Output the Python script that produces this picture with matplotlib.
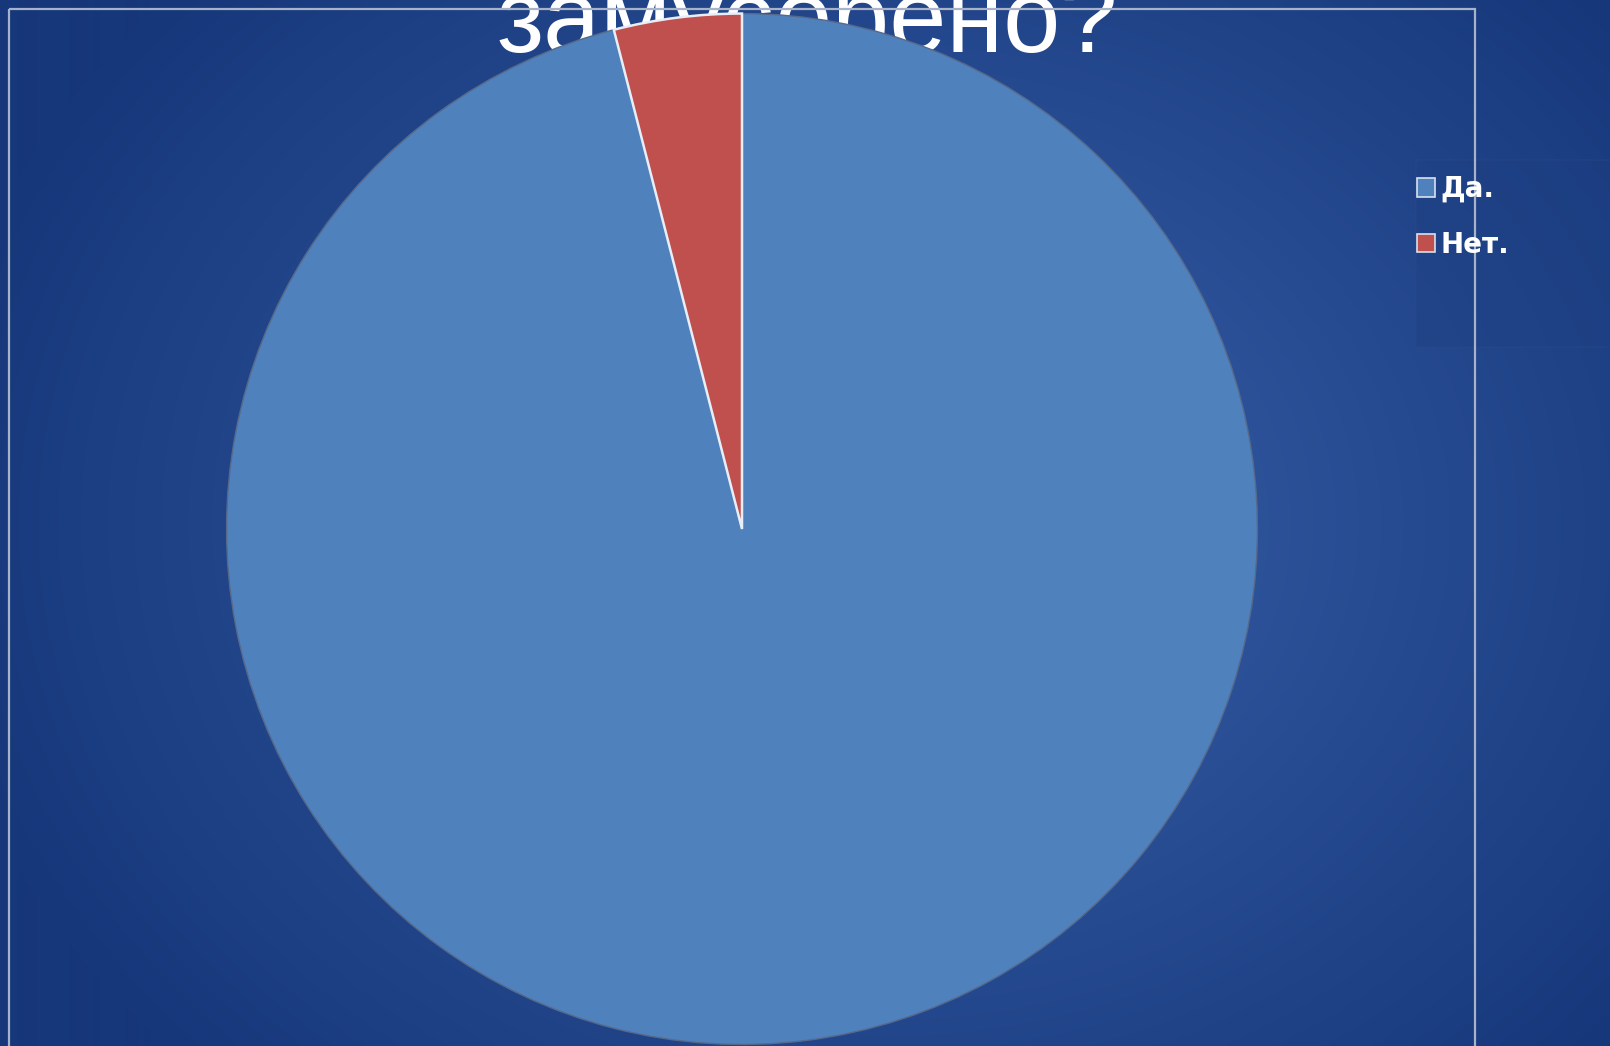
import numpy as np
import matplotlib
matplotlib.use("Agg")
import matplotlib.pyplot as plt
from matplotlib.patches import Rectangle

# data
labels = ["Да.", "Нет."]
values = [96, 4]
colors = ["#4F81BD", "#C0504D"]
title = "замусорено?"

W, H = 1610, 1046
fig = plt.figure(figsize=(W / 100, H / 100), dpi=100)

# radial gradient background
bg = fig.add_axes([0, 0, 1, 1])
yy, xx = np.mgrid[0:H, 0:W]
r = np.sqrt(((xx - W * 0.55) / (W * 0.6)) ** 2 + ((yy - H * 0.5) / (H * 0.75)) ** 2)
r = np.clip(r, 0, 1)
inner = np.array([0x3a, 0x62, 0xab]) / 255
outer = np.array([0x16, 0x37, 0x7a]) / 255
img = inner[None, None, :] * (1 - r[..., None]) + outer[None, None, :] * r[..., None]
bg.imshow(img, extent=[0, W, H, 0], aspect="auto", interpolation="bilinear")
bg.set_xlim(0, W)
bg.set_ylim(H, 0)
bg.axis("off")

# title sits behind the pie, partly cut by the top edge
bg.text(807, 52, title, color="white", fontsize=74, family="Liberation Sans",
        ha="center", va="baseline", zorder=1)

# light frame of the chart area
bg.add_patch(Rectangle((8.5, 8.5), 1475 - 8.5, H + 20, fill=False,
                       edgecolor="#a8b2c8", linewidth=1.6, zorder=3))
# legend box
bg.add_patch(Rectangle((1416, 160), 300, 187, facecolor="#1e3f82", alpha=0.35,
                       edgecolor="#2a4a8a", linewidth=1.2, zorder=2))

# pie
R = 517
cx, cy = 742, 529
ax = fig.add_axes([(cx - R) / W, (H - cy - R) / H, 2 * R / W, 2 * R / H])
wedges, _ = ax.pie(values, colors=colors, startangle=90, counterclock=False,
                   radius=1.0, wedgeprops=dict(linewidth=1.0, edgecolor="#56698a"))
wedges[1].set_edgecolor("#e8eef8")
wedges[1].set_linewidth(1.8)
ax.set_xlim(-1.003, 1.003)
ax.set_ylim(-1.003, 1.003)
ax.axis("off")

# legend
leg = fig.legend(wedges, labels, loc="upper left",
                 bbox_to_anchor=(1403 / W, (H - 161) / H),
                 frameon=False, borderpad=0, handlelength=0.66, handleheight=0.66,
                 handletextpad=0.2, labelspacing=1.0,
                 prop=dict(family="DejaVu Sans", weight="bold", size=20))
for t in leg.get_texts():
    t.set_color("white")
for h in leg.legend_handles:
    h.set_edgecolor("#d8e0ee")
    h.set_linewidth(1.2)

fig.savefig("out.png", dpi=100)
